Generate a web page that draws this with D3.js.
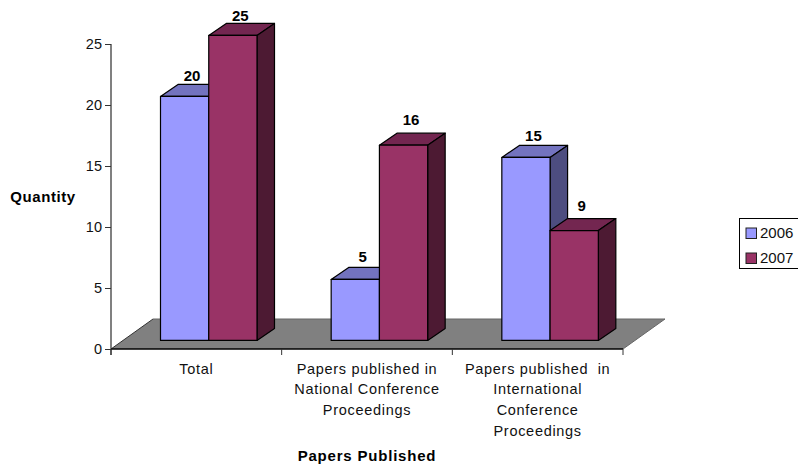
<!DOCTYPE html>
<html><head><meta charset="utf-8">
<script src="https://cdn.jsdelivr.net/npm/d3@7"></script>
<style>html,body{margin:0;padding:0;background:#fff}svg{display:block;font-family:"Liberation Sans",Arial,sans-serif}</style>
</head><body><svg id="c" width="798" height="469"></svg>
<script>
const categories = ["Total", "Papers published in National Conference Proceedings", "Papers published in International Conference Proceedings"];
const categoryLines = [["Total"], ["Papers published in", "National Conference", "Proceedings"], ["Papers published  in", "International", "Conference", "Proceedings"]];
const seriesNames = ["2006", "2007"];
const values2006 = [20, 5, 15];
const values2007 = [25, 16, 9];
const yTicks = [0, 5, 10, 15, 20, 25];
const frontColors = ["#9999FF", "#993366"];
const topColors = ["#7373BF", "#732650"];
const sideColors = ["#4D4D80", "#4D1A33"];
const seriesValues = [values2006, values2007];

const svg = d3.select("#c");
const y = d3.scaleLinear().domain([0, 25]).range([349, 44]);
const x = d3.scaleBand().domain(categories).range([111, 623]);
const sub = d3.scaleBand().domain(seriesNames).range([49.5, 146]);
const floorDX = 42, floorDY = 30, barDX = 17.5, barDY = 12, barLift = 8.6;
// vertical gap between each bar top and its value label, per category and series
const labelGap = [[3, 2], [5, 8], [4, 8]];

// floor
svg.append("path")
  .attr("d", d3.line()([[111, y(0)], [111 + floorDX, y(0) - floorDY], [623 + floorDX, y(0) - floorDY], [623, y(0)]]) + "Z")
  .attr("fill", "#808080");
svg.append("path").attr("d", `M111,${y(0)}L${111 + floorDX},${y(0) - floorDY}`).attr("stroke", "#333").attr("fill", "none");
svg.append("path").attr("d", `M${111 + floorDX},${y(0) - floorDY}H${623 + floorDX}L623,${y(0)}`).attr("stroke", "#666").attr("fill", "none");

// y axis
const yAxis = d3.axisLeft(y).tickValues(yTicks).tickSize(6).tickPadding(3);
const gy = svg.append("g").attr("transform", "translate(111,0)").call(yAxis);
gy.select(".domain").attr("stroke", "#808080").attr("stroke-width", 2).attr("d", `M0,${y(25)}V${y(0) + 6}`);
gy.selectAll("line").attr("stroke", "#333");
gy.selectAll("text").attr("font-size", 14.5).attr("font-family", "Liberation Sans").attr("fill", "#111");

// x axis
const xAxis = d3.axisBottom(x).tickValues([]).tickSize(0);
const gx = svg.append("g").attr("transform", `translate(0,${y(0)})`).call(xAxis);
gx.select(".domain").attr("stroke", "#000").attr("stroke-width", 1.4).attr("d", "M111,0H623");
const edges = d3.range(categories.length + 1).map(i => 111 + i * x.step());
gx.selectAll("line.edge").data(edges).join("line").attr("class", "edge")
  .attr("x1", d => d).attr("x2", d => d).attr("y1", 0).attr("y2", 6).attr("stroke", "#333");

// bars
categories.forEach((c, ci) => {
  seriesNames.forEach((s, si) => {
    const v = seriesValues[si][ci];
    const x0 = x(c) + sub(s), w = sub.bandwidth();
    const yb = y(0) - barLift, yt = y(v) - barLift;
    const g = svg.append("g").attr("stroke", "#000").attr("stroke-width", 1.2).attr("stroke-linejoin", "round");
    g.append("path").attr("fill", topColors[si])
      .attr("d", d3.line()([[x0, yt], [x0 + barDX, yt - barDY], [x0 + w + barDX, yt - barDY], [x0 + w, yt]]) + "Z");
    g.append("path").attr("fill", sideColors[si])
      .attr("d", d3.line()([[x0 + w, yt], [x0 + w + barDX, yt - barDY], [x0 + w + barDX, yb - barDY], [x0 + w, yb]]) + "Z");
    g.append("rect").attr("x", x0).attr("y", yt).attr("width", w).attr("height", yb - yt).attr("fill", frontColors[si]);
    svg.append("text").attr("x", x0 + w / 2 + 7.5).attr("y", yt - barDY - labelGap[ci][si])
      .attr("text-anchor", "middle").attr("font-size", 15).attr("font-weight", "bold").text(v);
  });
});

// category labels
categories.forEach((c, ci) => {
  const t = svg.append("text").attr("text-anchor", "middle").attr("font-size", 14.5)
    .attr("letter-spacing", 0.7).attr("fill", "#111").attr("xml:space", "preserve");
  categoryLines[ci].forEach((l, li) => {
    t.append("tspan").attr("x", x(c) + x.bandwidth() / 2).attr("y", 373.5 + li * 20.8).text(l);
  });
});

// axis titles
svg.append("text").attr("x", 43).attr("y", 202).attr("text-anchor", "middle").attr("font-size", 15)
  .attr("letter-spacing", 0.6).attr("font-weight", "bold").text("Quantity");
svg.append("text").attr("x", 367).attr("y", 461).attr("text-anchor", "middle").attr("font-size", 15)
  .attr("letter-spacing", 0.8).attr("font-weight", "bold").text("Papers Published");

// legend
svg.append("rect").attr("x", 739.5).attr("y", 218.5).attr("width", 60).attr("height", 50).attr("fill", "#fff").attr("stroke", "#000");
seriesNames.forEach((s, i) => {
  svg.append("rect").attr("x", 746).attr("y", 228 + i * 25).attr("width", 10.5).attr("height", 10.5)
    .attr("fill", frontColors[i]).attr("stroke", "#222");
  svg.append("text").attr("x", 760).attr("y", 238 + i * 25).attr("font-size", 15).attr("fill", "#111").text(s);
});
</script></body></html>
